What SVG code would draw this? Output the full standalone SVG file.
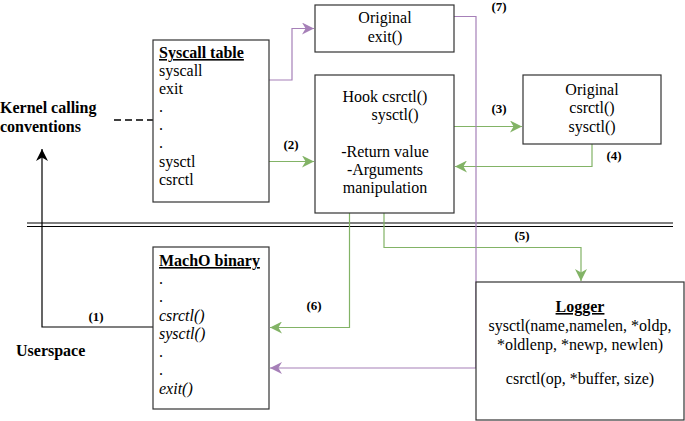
<svg xmlns="http://www.w3.org/2000/svg" width="685" height="421" viewBox="0 0 685 421" font-family="'Liberation Serif', 'Times New Roman', Times, serif">
<style>
.box{fill:#fff;stroke:#333;stroke-width:1.2}
.t{font-family:'Liberation Serif', Times, serif;font-size:16px;fill:#000}
.b{font-weight:bold}
.u{text-decoration:underline}
.i{font-style:italic}
.lbl{font-family:'Liberation Serif', Times, serif;font-size:13px;font-weight:bold;fill:#000;text-anchor:middle}
.c{text-anchor:middle}
.g{fill:none;stroke:#82b366;stroke-width:1.2}
.p{fill:none;stroke:#a680b8;stroke-width:1.2}
.k{fill:none;stroke:#000;stroke-width:1.2}
</style>
<defs>
<marker id="ag" markerUnits="userSpaceOnUse" markerWidth="12" markerHeight="12" viewBox="0 0 10 10" refX="10" refY="5" orient="auto"><path d="M0,0 L10,5 L0,10 L3,5 z" fill="#82b366"/></marker>
<marker id="ap" markerUnits="userSpaceOnUse" markerWidth="12" markerHeight="12" viewBox="0 0 10 10" refX="10" refY="5" orient="auto"><path d="M0,0 L10,5 L0,10 L3,5 z" fill="#a680b8"/></marker>
<marker id="ak" markerUnits="userSpaceOnUse" markerWidth="12" markerHeight="12" viewBox="0 0 10 10" refX="10" refY="5" orient="auto"><path d="M0,0 L10,5 L0,10 L3,5 z" fill="#000"/></marker>
</defs>

<g id="separator">
<line x1="27" y1="223" x2="673" y2="223" stroke="#000" stroke-width="1.2"/>
<line x1="27" y1="226.5" x2="673" y2="226.5" stroke="#000" stroke-width="1.2"/>
</g>

<g id="connectors">
<line x1="114" y1="120" x2="153" y2="120" stroke="#000" stroke-width="1.5" stroke-dasharray="7 4"/>
<path class="k" d="M153,327 H42 V149" marker-end="url(#ak)"/>
<path class="p" d="M269,80 H292 V28.5 H314" marker-end="url(#ap)"/>
<path class="g" d="M269,161.5 H314" marker-end="url(#ag)"/>
<path class="g" d="M454,126.5 H522" marker-end="url(#ag)"/>
<path class="g" d="M592,144 V166.5 H455" marker-end="url(#ag)"/>
<path class="g" d="M384,213 V247.5 H581 V281" marker-end="url(#ag)"/>
<path class="g" d="M349.5,213 V327.5 H270" marker-end="url(#ag)"/>
<path class="p" d="M454,16.5 H476 V368 H270" marker-end="url(#ap)"/>
<text class="lbl" x="96" y="321">(1)</text>
<text class="lbl" x="291" y="149">(2)</text>
<text class="lbl" x="499" y="113">(3)</text>
<text class="lbl" x="614" y="160">(4)</text>
<text class="lbl" x="522" y="240">(5)</text>
<text class="lbl" x="314" y="310">(6)</text>
<text class="lbl" x="499" y="11">(7)</text>
</g>

<g id="kernel-label">
<text class="t b" x="0" y="113">Kernel calling</text>
<text class="t b" x="0" y="132">conventions</text>
</g>
<g id="userspace-label">
<text class="t b" x="16" y="356">Userspace</text>
</g>

<g id="syscall-table">
<rect class="box" x="153" y="40" width="116" height="162"/>
<text class="t b u" x="159" y="58">Syscall table</text>
<text class="t" x="159" y="76">syscall</text>
<text class="t" x="159" y="94">exit</text>
<text class="t" x="159" y="112">.</text>
<text class="t" x="159" y="130">.</text>
<text class="t" x="159" y="148">.</text>
<text class="t" x="159" y="167">sysctl</text>
<text class="t" x="159" y="185">csrctl</text>
</g>

<g id="original-exit">
<rect class="box" x="315" y="5" width="139" height="47"/>
<text class="t c" x="385" y="23">Original</text>
<text class="t c" x="385" y="42">exit()</text>
</g>

<g id="hook">
<rect class="box" x="315" y="75" width="139" height="138"/>
<text class="t c" x="385" y="102">Hook csrctl()</text>
<text class="t c" x="395" y="120">sysctl()</text>
<text class="t c" x="385" y="157">-Return value</text>
<text class="t c" x="385" y="175">-Arguments</text>
<text class="t c" x="385" y="193">manipulation</text>
</g>

<g id="original-csrctl">
<rect class="box" x="523" y="75" width="138" height="69"/>
<text class="t c" x="592" y="95">Original</text>
<text class="t c" x="592" y="113">csrctl()</text>
<text class="t c" x="592" y="132">sysctl()</text>
</g>

<g id="macho">
<rect class="box" x="153" y="247" width="116" height="162"/>
<text class="t b u" x="159" y="266">MachO binary</text>
<text class="t" x="159" y="284">.</text>
<text class="t" x="159" y="302">.</text>
<text class="t i" x="159" y="321">csrctl()</text>
<text class="t i" x="159" y="339">sysctl()</text>
<text class="t" x="159" y="357">.</text>
<text class="t" x="159" y="375">.</text>
<text class="t i" x="159" y="394">exit()</text>
</g>

<g id="logger">
<rect class="box" x="476" y="282" width="208" height="138"/>
<text class="t b u c" x="580" y="312">Logger</text>
<text class="t c" x="580" y="331">sysctl(name,namelen, *oldp,</text>
<text class="t c" x="580" y="350">*oldlenp, *newp, newlen)</text>
<text class="t c" x="580" y="384">csrctl(op, *buffer, size)</text>
</g>
</svg>
